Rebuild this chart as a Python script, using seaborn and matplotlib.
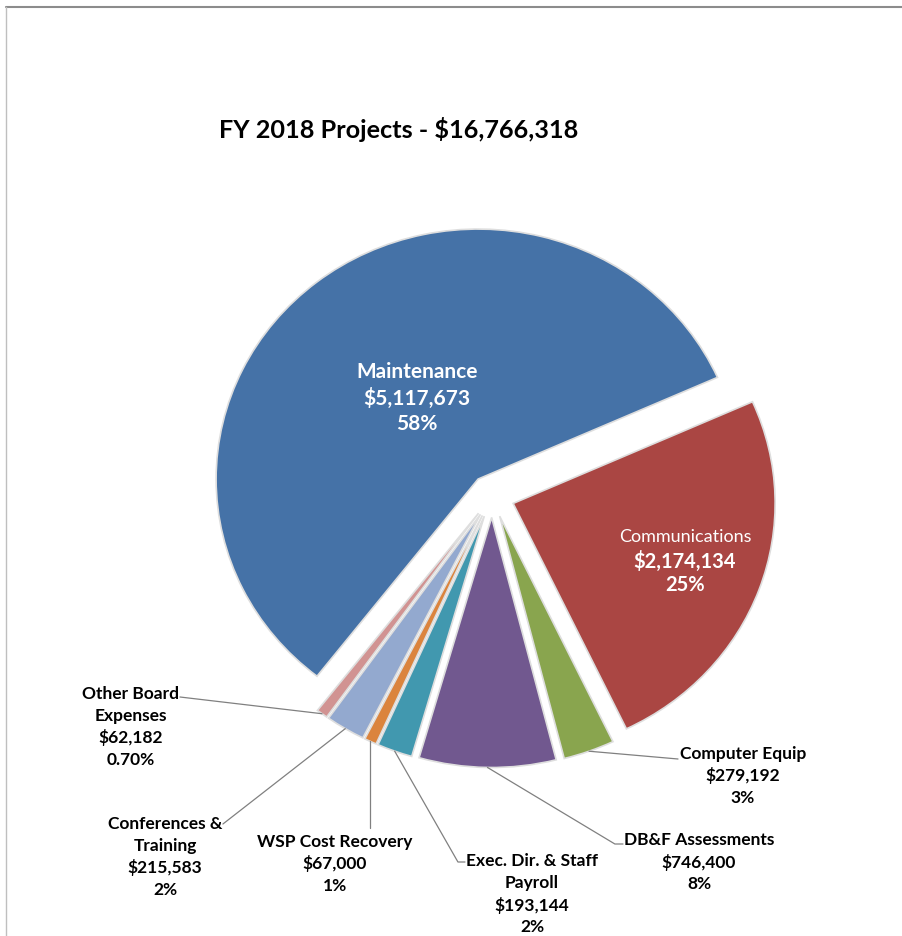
import numpy as np
import matplotlib
matplotlib.use('Agg')
import matplotlib.pyplot as plt
from matplotlib.lines import Line2D
import seaborn as sns

sns.set_theme(style='white')
plt.rcParams['font.family'] = ['Lato', 'DejaVu Sans']

# slices, clockwise starting with Communications
names = ['Communications', 'Computer Equip', 'DB&F Assessments',
         'Exec. Dir. & Staff\nPayroll', 'WSP Cost Recovery',
         'Conferences &\nTraining', 'Other Board\nExpenses', 'Maintenance']
amounts = [2174134, 279192, 746400, 193144, 67000, 215583, 62182, 5117673]
pct_text = ['25%', '3%', '8%', '2%', '1%', '2%', '0.70%', '58%']
colors = ['#AA4643', '#89A54E', '#71588F', '#4198AF',
          '#DB843D', '#93A9CF', '#D19392', '#4572A7']
title = 'FY 2018 Projects - $16,766,318'

W, H = 903, 937
fig = plt.figure(figsize=(W / 100, H / 100), dpi=100)
ax = fig.add_axes([0, 0, 1, 1])

wedges, _ = ax.pie(amounts, colors=sns.color_palette(colors), startangle=24,
                   counterclock=False, explode=[0.086] * len(amounts),
                   wedgeprops=dict(edgecolor='#dedede', linewidth=1.2))
# the original screenshot is a little wider than tall
ax.set_aspect('auto')
ax.set_xlim(-492 / 262, (W - 492) / 262)
ax.set_ylim((497 - H) / 250, 497 / 250)
ax.axis('off')


def label_lines(i):
    return names[i].split('\n') + [f'${amounts[i]:,}', pct_text[i]]


def put_label(x, y, lines, step, color='black', size=12.5, first=None):
    n = len(lines)
    for k, s in enumerate(lines):
        yy = y - (k - (n - 1) / 2) * step
        fs, fw = size, 'bold'
        if k == 0 and first is not None:
            fs, fw = first
        ax.text(x, yy, s, color=color, fontsize=fs, fontweight=fw,
                ha='center', va='center')


# labels inside the two big slices
put_label(0.737, -0.256, label_lines(0), 0.096, color='white', size=14.5,
          first=(13, 'normal'))
put_label(-0.286, 0.396, label_lines(7), 0.104, color='white', size=15)

# outside labels: text centre + leader path (after the slice edge point)
outside = {
    1: ((0.958, -1.116), [(0.710, -1.052)]),
    2: ((0.790, -1.462), [(0.469, -1.392), (0.50, -1.392)]),
    3: ((0.153, -1.590), [(-0.130, -1.464), (-0.103, -1.464)]),
    4: ((-0.599, -1.468), [(None, -1.328)]),
    5: ((-1.248, -1.440), [(-1.027, -1.312)]),
    6: ((-1.378, -0.920), [(-1.191, -0.804)]),
}
for i, ((tx, ty), path) in outside.items():
    w = wedges[i]
    mid = np.deg2rad((w.theta1 + w.theta2) / 2)
    sx = w.center[0] + w.r * np.cos(mid)
    sy = w.center[1] + w.r * np.sin(mid)
    xs, ys = [sx], [sy]
    for px, py in path:
        xs.append(sx if px is None else px)
        ys.append(py)
    ax.plot(xs, ys, color='#808080', lw=0.9)
    put_label(tx, ty, label_lines(i), 0.088)

fig.text(399 / W, 1 - 130 / H, title, fontsize=18.2, fontweight='bold',
         color='black', ha='center', va='center')

# screenshot frame at top and left
fig.add_artist(Line2D([6 / W, 1], [1 - 8 / H, 1 - 8 / H], color='#8c8c8c', lw=1.5))
fig.add_artist(Line2D([6 / W, 6 / W], [0, 1 - 8 / H], color='#bfbfbf', lw=1.0))

fig.savefig('out.png', dpi=100)
